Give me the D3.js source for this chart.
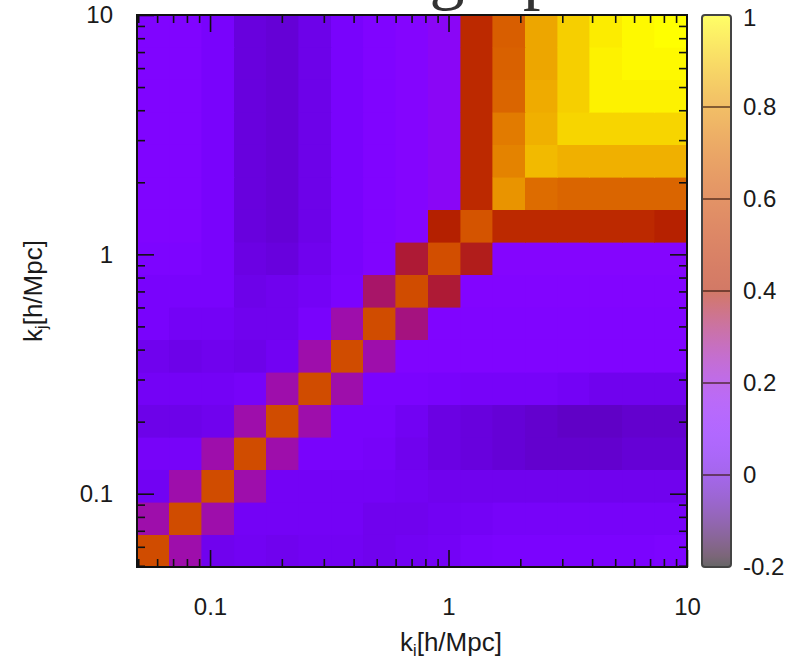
<!DOCTYPE html>
<html><head><meta charset="utf-8">
<script src="https://cdn.jsdelivr.net/npm/d3@7"></script>
<style>body{margin:0;background:#fff} svg{display:block}</style>
</head><body>
<svg id="chart" width="799" height="668"></svg>
<script>
// bin edges in k [h/Mpc] (log-spaced bins)
const kEdges = [0.0494, 0.0675, 0.0923, 0.1261, 0.1723, 0.2355, 0.3219, 0.4399, 0.6012, 0.8216,
                1.1230, 1.5346, 2.0977, 2.8666, 3.9174, 5.3545, 7.3180, 10.0];
const axisTicks = [0.1, 1, 10];
const axisTickLabels = ["0.1", "1", "10"];
const cbTicks = [-0.2, 0, 0.2, 0.4, 0.6, 0.8, 1];
const cbTickLabels = ["-0.2", "0", "0.2", "0.4", "0.6", "0.8", "1"];
const titleGlyphs = ["g", "p"];
// correlation values: rows = k_j bin (0 = lowest k), columns = k_i bin
const corr = [
 [0.60,0.26,0.03,0.04,0.03,0.04,0.04,0.03,0.04,0.05,0.07,0.08,0.08,0.08,0.08,0.08,0.09],
 [0.26,0.60,0.26,0.05,0.05,0.05,0.05,0.03,0.03,0.04,0.05,0.06,0.06,0.06,0.06,0.06,0.06],
 [0.04,0.26,0.60,0.26,0.05,0.05,0.05,0.05,0.04,0.03,0.03,0.03,0.03,0.03,0.03,0.03,0.03],
 [0.06,0.06,0.26,0.60,0.26,0.07,0.07,0.06,0.03,0.01,0.00,-0.01,-0.02,-0.02,-0.02,-0.01,-0.01],
 [0.02,0.02,0.03,0.26,0.60,0.26,0.07,0.07,0.04,0.01,0.00,-0.01,-0.02,-0.03,-0.03,-0.02,-0.02],
 [0.05,0.05,0.05,0.06,0.26,0.60,0.26,0.08,0.08,0.07,0.06,0.06,0.06,0.05,0.03,0.03,0.03],
 [0.03,0.02,0.03,0.02,0.04,0.26,0.60,0.26,0.10,0.10,0.10,0.10,0.10,0.10,0.10,0.10,0.10],
 [0.07,0.05,0.05,0.03,0.03,0.07,0.26,0.60,0.30,0.10,0.10,0.10,0.10,0.10,0.10,0.10,0.10],
 [0.07,0.07,0.07,0.02,0.03,0.05,0.08,0.32,0.60,0.36,0.11,0.11,0.11,0.11,0.11,0.11,0.11],
 [0.09,0.09,0.07,0.01,0.00,0.03,0.07,0.10,0.36,0.61,0.38,0.12,0.12,0.12,0.12,0.12,0.12],
 [0.10,0.10,0.07,0.00,-0.01,0.02,0.07,0.10,0.12,0.40,0.63,0.45,0.45,0.45,0.45,0.45,0.41],
 [0.10,0.10,0.07,0.00,-0.01,0.02,0.07,0.10,0.12,0.15,0.45,0.80,0.70,0.68,0.68,0.68,0.68],
 [0.10,0.10,0.07,0.00,-0.01,0.02,0.07,0.10,0.12,0.15,0.45,0.76,0.88,0.86,0.86,0.86,0.86],
 [0.10,0.10,0.07,0.00,-0.01,0.02,0.07,0.10,0.12,0.15,0.45,0.74,0.86,0.93,0.93,0.93,0.93],
 [0.10,0.10,0.07,0.00,-0.01,0.02,0.07,0.10,0.12,0.15,0.45,0.68,0.85,0.92,0.98,0.98,0.98],
 [0.10,0.10,0.07,0.00,-0.01,0.02,0.07,0.10,0.12,0.15,0.45,0.67,0.84,0.92,0.98,0.99,0.99],
 [0.10,0.10,0.07,0.00,-0.01,0.02,0.07,0.10,0.12,0.15,0.45,0.66,0.84,0.92,0.97,0.99,1.00]
];

const svg = d3.select("#chart");
const P = {left: 137, right: 687, top: 15, bottom: 567};
const FONT = "'Liberation Sans', Arial, Helvetica, sans-serif";

const x = d3.scaleLog().domain([kEdges[0], kEdges[kEdges.length - 1]]).range([P.left, P.right]);
const y = d3.scaleLog().domain([kEdges[0], kEdges[kEdges.length - 1]]).range([P.bottom, P.top]);

// gnuplot default pm3d palette (rgbformulae 7,5,15)
function pm3d(t) {
  const g = Math.max(0, Math.min(1, t));
  return d3.rgb(255 * Math.sqrt(g), 255 * g * g * g, 255 * Math.max(0, Math.sin(2 * Math.PI * g)));
}
const color = d3.scaleSequential(pm3d).domain([-0.2, 1]);

// cells
const cells = [];
corr.forEach((row, j) => row.forEach((v, i) => cells.push({i, j, v})));
svg.append("g").selectAll("rect").data(cells).join("rect")
  .attr("x", d => x(kEdges[d.i]))
  .attr("y", d => y(kEdges[d.j + 1]))
  .attr("width", d => x(kEdges[d.i + 1]) - x(kEdges[d.i]))
  .attr("height", d => y(kEdges[d.j]) - y(kEdges[d.j + 1]))
  .attr("fill", d => color(d.v))
  .attr("stroke", d => color(d.v))
  .attr("stroke-width", 0.6)
  .attr("shape-rendering", "crispEdges");

// ticks (inside, mirrored on all sides)
const minor = x.ticks().filter(t => !axisTicks.some(m => Math.abs(m - t) < 1e-9) && t > kEdges[0] && t < 10);
function styleAxis(g) {
  g.select(".domain").remove();
  g.selectAll(".tick line").attr("stroke", "#111").attr("stroke-width", 1.6);
  g.selectAll("text").attr("font-family", FONT).attr("font-size", 24).attr("fill", "#1a1a1a");
}
svg.append("g").attr("transform", `translate(0,${P.bottom})`)
  .call(d3.axisBottom(x).tickValues(minor).tickSize(-8).tickFormat("")).call(styleAxis);
svg.append("g").attr("transform", `translate(0,${P.bottom})`)
  .call(d3.axisBottom(x).tickValues(axisTicks).tickSize(-17).tickPadding(31)
        .tickFormat((d, i) => axisTickLabels[i])).call(styleAxis);
svg.append("g").attr("transform", `translate(0,${P.top})`)
  .call(d3.axisTop(x).tickValues(minor).tickSize(-8).tickFormat("")).call(styleAxis);
svg.append("g").attr("transform", `translate(0,${P.top})`)
  .call(d3.axisTop(x).tickValues(axisTicks.slice(0, 2)).tickSize(-17).tickFormat("")).call(styleAxis);
svg.append("g").attr("transform", `translate(${P.left},0)`)
  .call(d3.axisLeft(y).tickValues(minor).tickSize(-8).tickFormat("")).call(styleAxis);
svg.append("g").attr("transform", `translate(${P.left},0)`)
  .call(d3.axisLeft(y).tickValues(axisTicks).tickSize(-17).tickPadding(24)
        .tickFormat((d, i) => axisTickLabels[i])).call(styleAxis);
svg.append("g").attr("transform", `translate(${P.right},0)`)
  .call(d3.axisRight(y).tickValues(minor).tickSize(-8).tickFormat("")).call(styleAxis);
svg.append("g").attr("transform", `translate(${P.right},0)`)
  .call(d3.axisRight(y).tickValues(axisTicks.slice(0, 2)).tickSize(-17).tickFormat("")).call(styleAxis);

// border
svg.append("rect").attr("x", P.left).attr("y", P.top)
  .attr("width", P.right - P.left).attr("height", P.bottom - P.top)
  .attr("fill", "none").attr("stroke", "#111").attr("stroke-width", 2);

// axis labels
const xl = svg.append("text").attr("x", 451).attr("y", 651).attr("text-anchor", "middle")
  .attr("font-family", FONT).attr("font-size", 26).attr("fill", "#1a1a1a");
xl.append("tspan").text("k");
xl.append("tspan").attr("font-size", 16).attr("dy", 5).text("i");
xl.append("tspan").attr("dy", -5).text("[h/Mpc]");

const yl = svg.append("text").attr("transform", "translate(42,291) rotate(-90)").attr("text-anchor", "middle")
  .attr("font-family", FONT).attr("font-size", 26).attr("fill", "#1a1a1a");
yl.append("tspan").text("k");
yl.append("tspan").attr("font-size", 16).attr("dy", 5).text("j");
yl.append("tspan").attr("dy", -5).text("[h/Mpc]");

// colorbar
const cb = {x: 702, w: 29};
const cy = d3.scaleLinear().domain([-0.2, 1]).range([P.bottom, P.top]);
const defs = svg.append("defs");
const grad = defs.append("linearGradient").attr("id", "cbgrad")
  .attr("x1", 0).attr("y1", 1).attr("x2", 0).attr("y2", 0);
d3.range(0, 1.0001, 0.02).forEach(t => {
  grad.append("stop").attr("offset", t).attr("stop-color", color(-0.2 + 1.2 * t));
});
svg.append("rect").attr("x", cb.x).attr("y", P.top).attr("width", cb.w).attr("height", P.bottom - P.top)
  .attr("fill", "#fff");
svg.append("rect").attr("x", cb.x).attr("y", P.top).attr("width", cb.w).attr("height", P.bottom - P.top)
  .attr("fill", "url(#cbgrad)").attr("fill-opacity", 0.6);
svg.append("g").selectAll("line").data(cbTicks.slice(1, -1)).join("line")
  .attr("x1", cb.x).attr("x2", cb.x + cb.w).attr("y1", d => cy(d)).attr("y2", d => cy(d))
  .attr("stroke", "#3a1a10").attr("stroke-opacity", 0.75).attr("stroke-width", 1.6);
svg.append("rect").attr("x", cb.x).attr("y", P.top).attr("width", cb.w).attr("height", P.bottom - P.top)
  .attr("rx", 3).attr("fill", "none").attr("stroke", "#444").attr("stroke-width", 2);
svg.append("g").selectAll("text").data(cbTicks).join("text")
  .attr("x", 743).attr("y", d => cy(d) + (d === 1 ? 3 : 0)).attr("dy", "0.35em")
  .attr("font-family", FONT).attr("font-size", 24).attr("fill", "#1a1a1a")
  .text((d, i) => cbTickLabels[i]);

// title glyphs, cut off by the top edge as in the reference
svg.append("text").attr("x", 447).attr("y", -4).attr("text-anchor", "middle")
  .attr("font-family", "'Liberation Serif', 'DejaVu Serif', serif").attr("font-size", 70).attr("fill", "#333")
  .text(titleGlyphs[0]);
svg.append("text").attr("x", 523).attr("y", -4).attr("text-anchor", "start")
  .attr("font-family", "'Liberation Serif', 'DejaVu Serif', serif").attr("font-size", 70).attr("fill", "#333")
  .text(titleGlyphs[1]);
</script>
</body></html>
